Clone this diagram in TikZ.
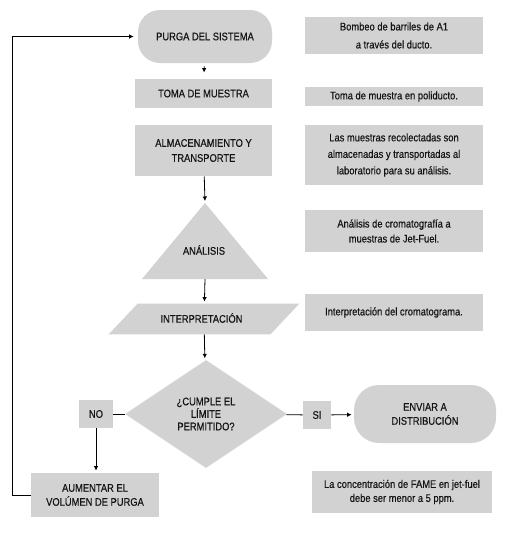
\documentclass[tikz,border=0pt]{standalone}
\usepackage{fontspec}
\setmainfont{Liberation Sans}[FakeStretch=0.85,FakeBold=0.4]
\usetikzlibrary{shapes.geometric,arrows.meta}
\definecolor{boxgray}{RGB}{210,210,210}
\definecolor{txtgray}{RGB}{20,20,20}

\begin{document}
\begin{tikzpicture}[x=1pt,y=-1pt,line width=0.8pt,
    font=\fontsize{11}{15}\selectfont,text=txtgray,
    box/.style={fill=boxgray,inner sep=0pt,align=center},
    term/.style={box,rounded corners=22pt},
    note/.style={box,minimum width=178pt},
    arr/.style={-{Latex[length=4.5pt,width=4.5pt]},shorten >=2pt}]
  \useasboundingbox (0,0) rectangle (504,538);

  % Draw main steps
  \node[term,minimum width=134pt,minimum height=53pt] (purga) at (205,36.5) {PURGA DEL SISTEMA};
  \node[box,minimum width=137pt,minimum height=29pt] (toma) at (203.5,93.5) {TOMA DE MUESTRA};
  \node[box,minimum width=137pt,minimum height=51pt] (alma) at (203.5,150.5) {ALMACENAMIENTO Y\\TRANSPORTE};

  % Draw triangle
  \fill[boxgray] (205,203) -- (268,279) -- (142,279) -- cycle;
  \coordinate (anatop) at (205,203);
  \coordinate (anabot) at (205,279);
  \node (analisis) at (204,250) {ANÁLISIS};

  % Draw parallelogram
  \node[minimum width=132pt,minimum height=30pt,inner sep=0pt] (interp) at (204,319) {};
  \fill[boxgray] (interp.north west) -- ([xshift=29pt]interp.north east)
        -- (interp.south east) -- ([xshift=-29pt]interp.south west) -- cycle;
  \node at (201.5,318) {INTERPRETACIÓN};

  % Draw decision
  \node[box,shape=diamond,aspect=1.5,minimum width=162pt,minimum height=108pt,
        font=\fontsize{11}{12.5}\selectfont] (cumple) at (206,414) {¿CUMPLE EL\\LÍMITE\\PERMITIDO?};
  \node[box,minimum width=34pt,minimum height=28pt] (no) at (96,414) {NO};
  \node[box,minimum width=28pt,minimum height=28pt] (si) at (317,415) {SI};
  \node[term,rounded corners=25pt,minimum width=142pt,minimum height=58pt,
        font=\fontsize{11}{14}\selectfont] (enviar) at (425,414) {ENVIAR A\\DISTRIBUCIÓN};
  \node[box,minimum width=128pt,minimum height=44pt,
        font=\fontsize{11}{14}\selectfont] (aumentar) at (95,495) {AUMENTAR EL\\VOLÚMEN DE PURGA};

  % Draw notes
  \node[note,minimum height=37pt,font=\fontsize{11}{18}\selectfont] (n1) at (394,35.5) {Bombeo de barriles de A1\\a través del ducto.};
  \node[note,minimum height=19pt] (n2) at (394,96.5) {Toma de muestra en poliducto.};
  \node[note,minimum height=60pt,font=\fontsize{11}{16.5}\selectfont] (n3) at (394,155) {Las muestras recolectadas son\\almacenadas y transportadas al\\laboratorio para su análisis.};
  \node[note,minimum height=42pt] (n4) at (394,231) {Análisis de cromatografía a\\muestras de Jet-Fuel.};
  \node[note,minimum height=37pt] (n5) at (394,312.5) {Interpretación del cromatograma.};
  \node[note,minimum width=180pt,minimum height=42pt,font=\fontsize{11}{14}\selectfont] (n6) at (402,492) {La concentración de FAME en jet-fuel\\debe ser menor a 5 ppm.};

  % Draw connectors
  \draw[arr,shorten <=3pt,shorten >=6pt] (purga) -- (toma);
  \draw[arr] (alma) -- (anatop);
  \draw[arr] (anabot) -- (interp);
  \draw[arr] (interp) -- (cumple);
  \draw (cumple) -- (no);
  \draw (cumple) -- (si);
  \draw[arr] (si) -- (enviar);
  \draw[arr] (no) -- (no |- aumentar.north);
  \coordinate (loop) at (12,0);
  \draw[arr,shorten >=4pt] (aumentar.west) -- (aumentar.west -| loop)
        -- (loop |- purga.west) -- (purga.west);
\end{tikzpicture}
\end{document}
